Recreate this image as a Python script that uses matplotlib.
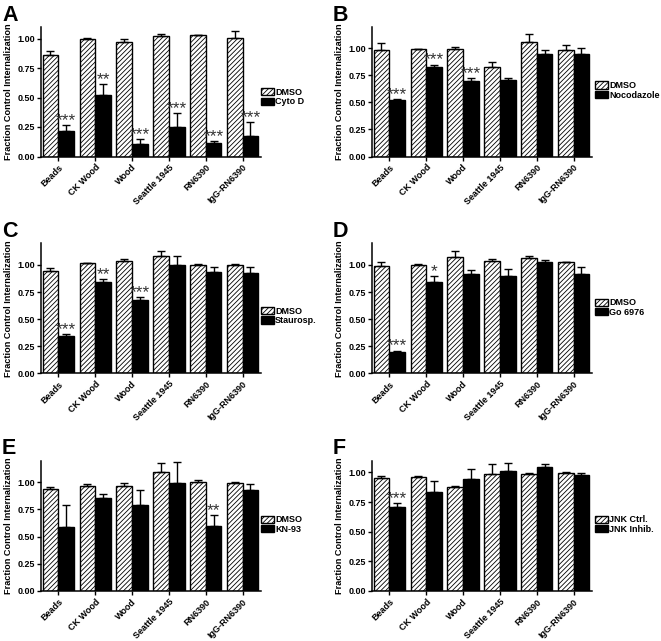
import numpy as np
import matplotlib
matplotlib.use("Agg")
import matplotlib.pyplot as plt
from matplotlib.patches import Patch

plt.rcParams['font.family'] = ['Liberation Sans', 'DejaVu Sans']
plt.rcParams['font.weight'] = 'bold'
plt.rcParams['hatch.linewidth'] = 0.6

categories = ['Beads', 'CK Wood', 'Wood', 'Seattle 1945', 'RN6390', 'IgG-RN6390']

# Panel A
a_ctrl = [0.863, 1.00, 0.969, 1.02, 1.026, 1.003]
a_ctrl_err = [0.027, 0.008, 0.031, 0.02, 0.006, 0.06]
a_treat = [0.217, 0.524, 0.103, 0.254, 0.111, 0.171]
a_treat_err = [0.053, 0.091, 0.047, 0.111, 0.023, 0.119]
a_stars = ['***', '**', '***', '***', '***', '***']
a_labels = ['DMSO', 'Cyto D']

# Panel B
b_ctrl = [0.985, 0.99, 0.991, 0.825, 1.06, 0.988]
b_ctrl_err = [0.065, 0.005, 0.02, 0.052, 0.075, 0.042]
b_treat = [0.523, 0.828, 0.698, 0.708, 0.948, 0.948]
b_treat_err = [0.007, 0.022, 0.028, 0.015, 0.032, 0.055]
b_stars = ['***', '***', '***', '', '', '']
b_labels = ['DMSO', 'Nocodazole']

# Panel C
c_ctrl = [0.944, 1.015, 1.04, 1.086, 1.003, 1.003]
c_ctrl_err = [0.031, 0.0, 0.012, 0.044, 0.009, 0.003]
c_treat = [0.34, 0.84, 0.673, 1.0, 0.935, 0.926]
c_treat_err = [0.024, 0.033, 0.031, 0.08, 0.045, 0.054]
c_stars = ['***', '**', '***', '', '', '']
c_labels = ['DMSO', 'Staurosp.']

# Panel D
d_ctrl = [0.994, 1.003, 1.074, 1.037, 1.065, 1.025]
d_ctrl_err = [0.036, 0.003, 0.053, 0.019, 0.018, 0.003]
d_treat = [0.198, 0.846, 0.917, 0.898, 1.028, 0.917]
d_treat_err = [0.012, 0.052, 0.04, 0.068, 0.018, 0.064]
d_stars = ['***', '*', '', '', '', '']
d_labels = ['DMSO', 'Go 6976']

# Panel E
e_ctrl = [0.942, 0.969, 0.966, 1.098, 1.0, 0.994]
e_ctrl_err = [0.012, 0.016, 0.025, 0.077, 0.022, 0.006]
e_treat = [0.59, 0.858, 0.788, 0.99, 0.6, 0.932]
e_treat_err = [0.204, 0.037, 0.141, 0.198, 0.10, 0.05]
e_stars = ['', '', '', '', '**', '']
e_labels = ['DMSO', 'KN-93']

# Panel F
f_ctrl = [0.954, 0.96, 0.877, 0.983, 0.986, 0.997]
f_ctrl_err = [0.017, 0.009, 0.006, 0.085, 0.011, 0.003]
f_treat = [0.707, 0.838, 0.94, 1.014, 1.048, 0.974]
f_treat_err = [0.034, 0.091, 0.086, 0.069, 0.023, 0.023]
f_stars = ['***', '', '', '', '', '']
f_labels = ['JNK Ctrl.', 'JNK Inhib.']

yticks = [0.0, 0.25, 0.50, 0.75, 1.00]

panels = [
    ('A', a_ctrl, a_ctrl_err, a_treat, a_treat_err, a_stars, a_labels, 1.1),
    ('B', b_ctrl, b_ctrl_err, b_treat, b_treat_err, b_stars, b_labels, 1.2),
    ('C', c_ctrl, c_ctrl_err, c_treat, c_treat_err, c_stars, c_labels, 1.2),
    ('D', d_ctrl, d_ctrl_err, d_treat, d_treat_err, d_stars, d_labels, 1.2),
    ('E', e_ctrl, e_ctrl_err, e_treat, e_treat_err, e_stars, e_labels, 1.2),
    ('F', f_ctrl, f_ctrl_err, f_treat, f_treat_err, f_stars, f_labels, 1.1),
]

W, H = 661, 641
fig = plt.figure(figsize=(W / 100, H / 100), dpi=100)

col_left = [41, 372]
ax_w = 220
rows = [(26.7, 156.5), (243.3, 373.3), (460.5, 591.0)]
leg_y = [0.528, 0.58, 0.512, 0.577, 0.58, 0.58]
leg_x = [1.0, 1.014, 1.0, 1.014, 1.0, 1.014]

w = 0.425
x = np.arange(len(categories))

for i, (letter, ctrl, cerr, treat, terr, stars, labels, ytop) in enumerate(panels):
    r, c = divmod(i, 2)
    top, bot = rows[r]
    left = col_left[c]
    ax = fig.add_axes([left / W, 1 - bot / H, ax_w / W, (bot - top) / H])
    ax.bar(x - w / 2, ctrl, w, color='white', edgecolor='black', hatch='///////', linewidth=1.0)
    ax.bar(x + w / 2, treat, w, color='black', edgecolor='black', linewidth=1.0)
    ax.errorbar(x - w / 2, ctrl, yerr=[np.zeros(len(ctrl)), cerr], fmt='none',
                ecolor='black', elinewidth=1.0, capsize=3, capthick=1.0)
    ax.errorbar(x + w / 2, treat, yerr=[np.zeros(len(treat)), terr], fmt='none',
                ecolor='black', elinewidth=1.0, capsize=3, capthick=1.0)
    for xi, t, e, s in zip(x, treat, terr, stars):
        if s:
            ax.annotate(s, (xi + w / 2, t + e), xytext=(0, 0), textcoords='offset points',
                        ha='center', va='baseline', fontsize=12.5, fontweight='normal',
                        color='#333333')
    ax.set_xlim(-0.47, 5.5)
    ax.set_ylim(0, ytop)
    ax.set_yticks(yticks)
    ax.set_yticklabels(['%.2f' % v for v in yticks])
    ax.set_xticks(x)
    ax.set_xticklabels(categories, rotation=45, ha='right', rotation_mode='anchor')
    for sp in ['top', 'right']:
        ax.spines[sp].set_visible(False)
    for sp in ['left', 'bottom']:
        ax.spines[sp].set_linewidth(1.1)
    ax.tick_params(direction='out', length=3, width=1, labelsize=6.5, pad=1.5)
    ax.set_ylabel('Fraction Control Internalization', fontsize=6.6, fontweight='bold', labelpad=3)
    handles = [Patch(facecolor='white', edgecolor='black', hatch='///////', linewidth=1.0),
               Patch(facecolor='black', edgecolor='black', linewidth=1.0)]
    ax.legend(handles, labels, loc='upper left', bbox_to_anchor=(leg_x[i], leg_y[i]),
              frameon=False, fontsize=6.5, borderaxespad=0, borderpad=0,
              handlelength=1.4, handleheight=0.85, handletextpad=0.15, labelspacing=0.05)
    fig.text((left - 39) / W, 1 - (top - 6) / H, letter, fontsize=15.5, fontweight='bold',
             ha='left', va='baseline')

fig.savefig('out.png', dpi=100)
